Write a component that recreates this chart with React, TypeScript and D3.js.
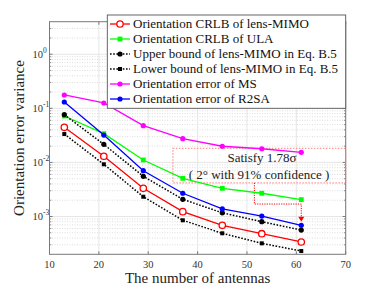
import * as d3 from "d3";

const antennas = [13, 21, 29, 37, 45, 53, 61];

const crlbLensMimo = [0.0446, 0.013, 0.00332, 0.00123, 0.000687, 0.000481, 0.000338];
const crlbUla = [0.0721, 0.034, 0.0111, 0.00508, 0.00332, 0.00269, 0.00205];
const upperBound = [0.0762, 0.0216, 0.00553, 0.00208, 0.00117, 0.000801, 0.000562];
const lowerBound = [0.0335, 0.00923, 0.00232, 0.000851, 0.000489, 0.000319, 0.00023];
const errorMs = [0.1766, 0.1256, 0.0478, 0.0275, 0.0199, 0.0179, 0.0154];
const errorR2sa = [0.131, 0.0321, 0.00703, 0.00269, 0.00138, 0.00102, 0.000687];

const xTicks = [10, 20, 30, 40, 50, 60, 70];
const yDecades = [-3, -2, -1, 0];

// annotation box + arrow (data coords)
const boxN = [35, 70];
const boxV = [0.0182, 0.0042];
const arrowN = [51.5, 61];
const arrowV = [0.0017, 0.0008];
const noteLines = ["Satisfy 1.78σ", "( 2° with 91% confidence )"];

type Series = {
  name: string;
  color: string;
  values: number[];
  dash?: string;
  marker: "ocircle" | "circle" | "square" | "smallsquare";
};

const series: Series[] = [
  { name: "Orientation CRLB of lens-MIMO", color: "#ff0000", values: crlbLensMimo, marker: "ocircle" },
  { name: "Orientation CRLB of ULA", color: "#00ff00", values: crlbUla, marker: "square" },
  { name: "Upper bound of lens-MIMO in Eq. B.5", color: "#000000", values: upperBound, dash: "1.6 1.6", marker: "circle" },
  { name: "Lower bound of lens-MIMO in Eq. B.5", color: "#000000", values: lowerBound, dash: "1.6 1.6", marker: "smallsquare" },
  { name: "Orientation error of MS", color: "#ff00ff", values: errorMs, marker: "circle" },
  { name: "Orientation error of R2SA", color: "#0000ff", values: errorR2sa, marker: "circle" },
];

const W = 382;
const H = 287;
const left = 49.5;
const right = 345.7;
const top = 21.7;
const bottom = 254.3;
const font = "'Liberation Serif', 'Times New Roman', serif";

function Marker({ kind, x, y, color }: { kind: Series["marker"]; x: number; y: number; color: string }) {
  if (kind === "ocircle")
    return <circle cx={x} cy={y} r={3.2} fill="white" stroke={color} strokeWidth={1.3} />;
  if (kind === "circle") return <circle cx={x} cy={y} r={2.6} fill={color} />;
  if (kind === "square") return <rect x={x - 2.4} y={y - 2.4} width={4.8} height={4.8} fill={color} />;
  return <rect x={x - 2} y={y - 2} width={4} height={4} fill={color} />;
}

export default function App() {
  const x = d3.scaleLinear().domain([10, 70]).range([left, right]);
  const y = d3.scaleLog().domain([2e-4, 4]).range([bottom, top]);
  const line = d3
    .line<[number, number]>()
    .x((d) => x(d[0]))
    .y((d) => y(d[1]));

  const minors: number[] = [];
  for (let e = -4; e <= 0; e++) {
    for (let k = 2; k <= 9; k++) {
      const v = k * Math.pow(10, e);
      if (v > 2e-4 && v < 4) minors.push(v);
    }
  }

  const bx0 = x(boxN[0]);
  const bx1 = x(boxN[1]);
  const by0 = y(boxV[0]);
  const by1 = y(boxV[1]);
  const ax0 = x(arrowN[0]);
  const ax1 = x(arrowN[1]);
  const ay0 = y(arrowV[0]);
  const ay1 = y(arrowV[1]);

  const legX = 107.3;
  const legY = 15;
  const legW = 238.4;
  const legH = 93.3;

  return (
    <svg width={W} height={H} style={{ position: "absolute", left: 0, top: 0, fontFamily: font }}>
      <rect width={W} height={H} fill="white" />
      {/* grid */}
      {minors.map((v) => (
        <line key={"mg" + v} x1={left} x2={right} y1={y(v)} y2={y(v)} stroke="#cfcfcf" strokeWidth={0.7} strokeDasharray="1 1.5" />
      ))}
      {yDecades.map((e) => (
        <line key={"yg" + e} x1={left} x2={right} y1={y(Math.pow(10, e))} y2={y(Math.pow(10, e))} stroke="#e3e3e3" strokeWidth={0.9} />
      ))}
      {xTicks.map((t) => (
        <line key={"xg" + t} x1={x(t)} x2={x(t)} y1={top} y2={bottom} stroke="#e3e3e3" strokeWidth={0.9} />
      ))}

      {/* axis box + ticks */}
      <rect x={left} y={top} width={right - left} height={bottom - top} fill="none" stroke="#7a7a7a" strokeWidth={1} />
      {xTicks.map((t) => (
        <g key={"xt" + t}>
          <line x1={x(t)} x2={x(t)} y1={bottom} y2={bottom - 3} stroke="#7a7a7a" />
          <line x1={x(t)} x2={x(t)} y1={top} y2={top + 3} stroke="#7a7a7a" />
          <text x={x(t)} y={267.5} fontSize={10.5} textAnchor="middle" fill="#333" fontFamily={font}>
            {t}
          </text>
        </g>
      ))}
      {yDecades.map((e) => (
        <g key={"yt" + e}>
          <line x1={left} x2={left + 3} y1={y(Math.pow(10, e))} y2={y(Math.pow(10, e))} stroke="#7a7a7a" />
          <line x1={right} x2={right - 3} y1={y(Math.pow(10, e))} y2={y(Math.pow(10, e))} stroke="#7a7a7a" />
          <text x={32.5} y={y(Math.pow(10, e)) + 3.5} fontSize={10.5} fill="#333" fontFamily={font}>
            10
            <tspan fontSize={7.5} dy={-5}>
              {e === 0 ? "0" : "-" + -e}
            </tspan>
          </text>
        </g>
      ))}
      {minors.map((v) => (
        <g key={"mt" + v}>
          <line x1={left} x2={left + 1.8} y1={y(v)} y2={y(v)} stroke="#7a7a7a" strokeWidth={0.8} />
          <line x1={right} x2={right - 1.8} y1={y(v)} y2={y(v)} stroke="#7a7a7a" strokeWidth={0.8} />
        </g>
      ))}

      {/* axis labels */}
      <text x={197.6} y={283} fontSize={15} textAnchor="middle" fill="#222" fontFamily={font}>
        The number of antennas
      </text>
      <text transform={`translate(24,${(top + bottom) / 2}) rotate(-90)`} fontSize={15} textAnchor="middle" fill="#222" fontFamily={font}>
        Orientation error variance
      </text>

      {/* annotation */}
      <rect x={bx0} y={by0} width={bx1 - bx0} height={by1 - by0} fill="none" stroke="#ff8080" strokeOpacity={0.8} strokeWidth={1.3} strokeDasharray="1.5 1.5" />
      <polyline
        points={`${ax0},${by1} ${ax0},${ay0} ${ax1},${ay0} ${ax1},${ay1 - 4}`}
        fill="none"
        stroke="#ff0000"
        strokeWidth={1}
        strokeDasharray="1.2 1.2"
      />
      <path d={`M${ax1 - 3},${ay1 - 5} L${ax1 + 3},${ay1 - 5} L${ax1},${ay1} Z`} fill="#ff0000" />
      <text x={262} y={161.5} fontSize={13} textAnchor="middle" fill="#222" fontFamily={font}>
        {noteLines[0]}
      </text>
      <text x={259} y={178.5} fontSize={13} textAnchor="middle" fill="#222" fontFamily={font}>
        {noteLines[1]}
      </text>

      {/* series */}
      {series.map((s) => {
        const pts = antennas.map((n, i) => [n, s.values[i]] as [number, number]);
        return (
          <g key={s.name}>
            <path d={line(pts) ?? ""} fill="none" stroke={s.color} strokeWidth={s.dash ? 1.5 : 1.3} strokeDasharray={s.dash} />
            {pts.map((p, i) => (
              <Marker key={i} kind={s.marker} x={x(p[0])} y={y(p[1])} color={s.color} />
            ))}
          </g>
        );
      })}

      {/* legend */}
      <rect x={legX} y={legY} width={legW} height={legH} fill="white" stroke="#555" strokeWidth={0.9} />
      {series.map((s, i) => {
        const cy = 24 + i * 15;
        return (
          <g key={"lg" + s.name}>
            <line x1={110} x2={130} y1={cy} y2={cy} stroke={s.color} strokeWidth={s.dash ? 1.5 : 1.3} strokeDasharray={s.dash} />
            <Marker kind={s.marker} x={120} y={cy} color={s.color} />
            <text x={133} y={cy + 4.3} fontSize={13} fill="#111" fontFamily={font}>
              {s.name}
            </text>
          </g>
        );
      })}
    </svg>
  );
}
